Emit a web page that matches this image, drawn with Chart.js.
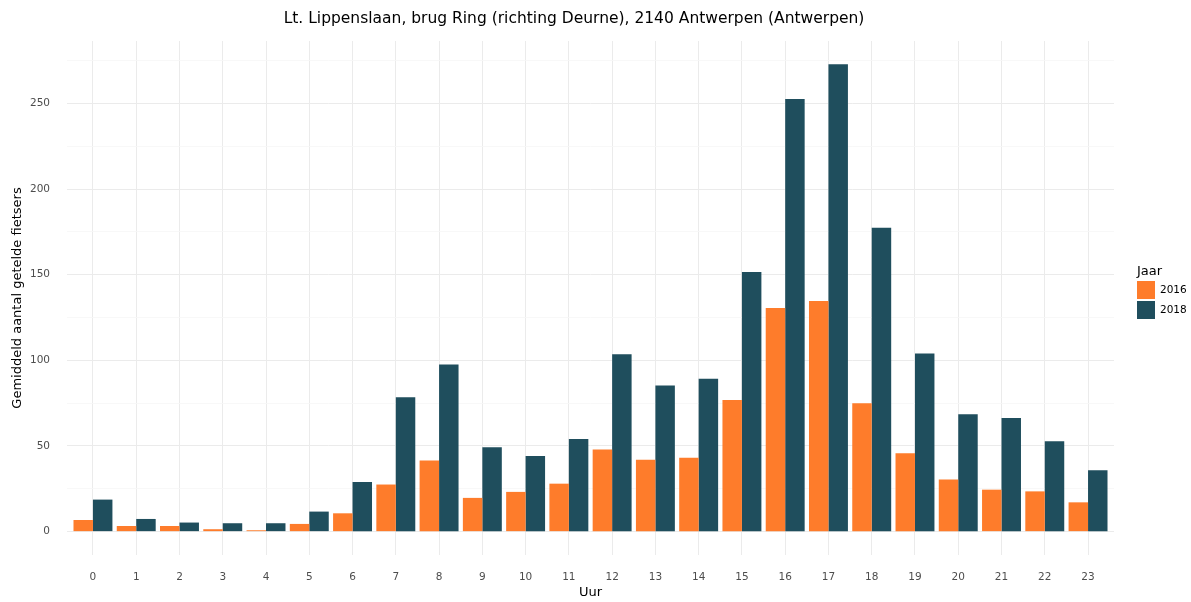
<!DOCTYPE html>
<html>
<head>
<meta charset="utf-8">
<script src="https://cdn.jsdelivr.net/npm/chart.js@4/dist/chart.umd.min.js"></script>
<style>
  html, body { margin: 0; padding: 0; background: #fff; }
  #wrap { width: 1191px; height: 602px; position: relative; }
</style>
</head>
<body>
<div id="wrap"><canvas id="chart"></canvas></div>
<script>
const hours = [0,1,2,3,4,5,6,7,8,9,10,11,12,13,14,15,16,17,18,19,20,21,22,23]
const years = ['2016', '2018']
const counts2016 = [6.8,3.3,3.3,1.4,0.8,4.5,10.7,27.5,41.5,19.7,23.2,28.0,47.9,41.9,43.2,76.9,130.6,134.7,74.9,45.7,30.4,24.5,23.5,17.1]
const counts2018 = [18.7,7.4,5.3,4.9,4.9,11.7,29.0,78.5,97.5,49.3,44.2,54.1,103.6,85.3,89.2,151.5,252.5,272.8,177.4,104.0,68.5,66.4,52.8,35.8]
const yTicks = [0,25,50,75,100,125,150,175,200,225,250,275]

const title  = 'Lt. Lippenslaan, brug Ring (richting Deurne), 2140 Antwerpen (Antwerpen)'
const xTitle = 'Uur'
const yTitle = 'Gemiddeld aantal getelde fietsers'
const legendTitle = 'Jaar'

const COLORS = { '2016': '#fe7c2b', '2018': '#1f4e5d' }
const FONT = '"DejaVu Sans", sans-serif'

// titles + legend drawn by hand so they sit where ggplot put them
const textPlugin = {
  id: 'ggText',
  afterDraw(chart) {
    const ctx = chart.ctx
    const area = chart.chartArea
    ctx.save()
    ctx.fillStyle = '#000'
    ctx.textBaseline = 'middle'

    ctx.font = `15.5px ${FONT}`
    ctx.textAlign = 'center'
    ctx.fillText(title, 574, 19)

    ctx.font = `13px ${FONT}`
    ctx.fillText(xTitle, (area.left + area.right) / 2, 593)

    ctx.save()
    ctx.translate(18, (area.top + area.bottom) / 2)
    ctx.rotate(-Math.PI / 2)
    ctx.fillText(yTitle, 0, 0)
    ctx.restore()

    ctx.textAlign = 'left'
    ctx.font = `13px ${FONT}`
    ctx.fillText(legendTitle, 1137, 272)
    ctx.font = `10.5px ${FONT}`
    years.forEach((y, i) => {
      const top = 281 + i * 20
      ctx.fillStyle = COLORS[y]
      ctx.fillRect(1137, top, 18, 18)
      ctx.fillStyle = '#000'
      ctx.fillText(y, 1160, top + 9.5)
    })
    ctx.restore()
  }
}

const toPoints = vals => hours.map((h, i) => ({ x: h, y: vals[i] }))

new Chart(document.getElementById('chart'), {
  type: 'bar',
  data: {
    datasets: [
      { label: '2016', data: toPoints(counts2016), backgroundColor: COLORS['2016'] },
      { label: '2018', data: toPoints(counts2018), backgroundColor: COLORS['2018'] },
    ]
  },
  options: {
    responsive: true,
    maintainAspectRatio: false,
    animation: false,
    layout: { padding: { top: 41, right: 77, left: 0, bottom: 0 } },
    datasets: { bar: { categoryPercentage: 0.9, barPercentage: 1.0 } },
    plugins: {
      legend: { display: false },
      tooltip: { enabled: false },
    },
    scales: {
      x: {
        type: 'linear',
        min: -0.6,
        max: 23.6,
        offset: false,
        afterBuildTicks: s => { s.ticks = hours.map(v => ({ value: v })) },
        afterFit: s => { s.height = 47 },
        border: { display: false },
        grid: { offset: false, color: '#ebebeb', lineWidth: 1, drawTicks: false },
        ticks: {
          padding: 16,
          color: '#4d4d4d',
          font: { family: FONT, size: 10.5 },
          maxRotation: 0,
          autoSkip: false,
        },
      },
      y: {
        min: -13.64,
        max: 286.4,
        afterBuildTicks: s => { s.ticks = yTicks.map(v => ({ value: v })) },
        afterFit: s => { s.width = 67 },
        border: { display: false },
        grid: {
          drawTicks: false,
          color: c => (c.tick && c.tick.value % 50 === 0) ? '#ebebeb' : '#f6f6f6',
          lineWidth: c => (c.tick && c.tick.value % 50 === 0) ? 1 : 0.8,
        },
        ticks: {
          padding: 17,
          color: '#4d4d4d',
          font: { family: FONT, size: 10.5 },
          callback: v => (v % 50 === 0 ? String(v) : ''),
        },
      },
    },
  },
  plugins: [textPlugin],
})
</script>
</body>
</html>
